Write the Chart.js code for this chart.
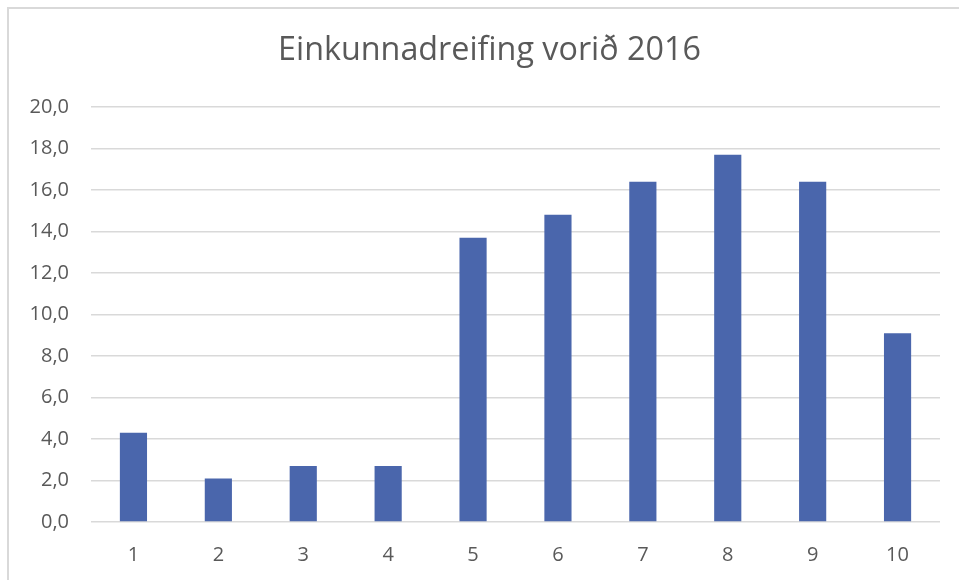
<!DOCTYPE html>
<html>
<head>
<meta charset="utf-8">
<script src="https://cdn.jsdelivr.net/npm/chart.js@4"></script>
<style>
html,body{margin:0;padding:0;background:#fff;}
#wrap{width:959px;height:580px;position:relative;}
</style>
</head>
<body>
<div id="wrap"><canvas id="c" width="959" height="580"></canvas></div>
<script>
const titleText = "Einkunnadreifing vorið 2016";
const categories = ["1","2","3","4","5","6","7","8","9","10"];
const values = [4.3, 2.1, 2.7, 2.7, 13.7, 14.8, 16.4, 17.7, 16.4, 9.1];
const yTicks = [0,2,4,6,8,10,12,14,16,18,20];

const frame = {
  id: 'frame',
  afterLayout(chart) {
    if (chart.titleBlock) {
      chart.titleBlock.left = 39;
      chart.titleBlock.right = 940;
    }
  },
  beforeDraw(chart) {
    const ctx = chart.ctx;
    ctx.save();
    ctx.strokeStyle = '#d9d9d9';
    ctx.lineWidth = 2;
    ctx.beginPath();
    ctx.moveTo(8, 580);
    ctx.lineTo(8, 8);
    ctx.lineTo(959, 8);
    ctx.stroke();
    ctx.restore();
  }
};

new Chart(document.getElementById('c'), {
  type: 'bar',
  data: {
    labels: categories,
    datasets: [{
      data: values,
      backgroundColor: '#4a66ac',
      borderWidth: 0,
      barPercentage: 0.32,
      categoryPercentage: 1.0
    }]
  },
  options: {
    responsive: false,
    animation: false,
    devicePixelRatio: 1,
    layout: { padding: { top: 0, left: 10, right: 19, bottom: 0 } },
    plugins: {
      legend: { display: false },
      tooltip: { enabled: false },
      title: {
        display: true,
        text: titleText,
        color: '#595959',
        font: { family: 'Open Sans', size: 32.3, weight: 'normal' },
        padding: { top: 31, bottom: 37.2 }
      }
    },
    scales: {
      x: {
        grid: { display: false, drawTicks: false },
        border: { display: false },
        ticks: { color: '#595959', font: { family: 'Open Sans', size: 20 }, padding: 21 },
        afterFit(s) { s.height = 58; }
      },
      y: {
        min: 0, max: 20,
        afterBuildTicks(s) { s.ticks = yTicks.map(v => ({ value: v })); },
        grid: { color: '#d9d9d9', lineWidth: 1.5, drawTicks: false },
        border: { display: false },
        ticks: {
          color: '#595959',
          font: { family: 'Open Sans', size: 20 },
          padding: 22,
          callback: v => v.toFixed(1).replace('.', ',')
        },
        afterFit(s) { s.width = 81; }
      }
    }
  },
  plugins: [frame]
});
</script>
</body>
</html>
